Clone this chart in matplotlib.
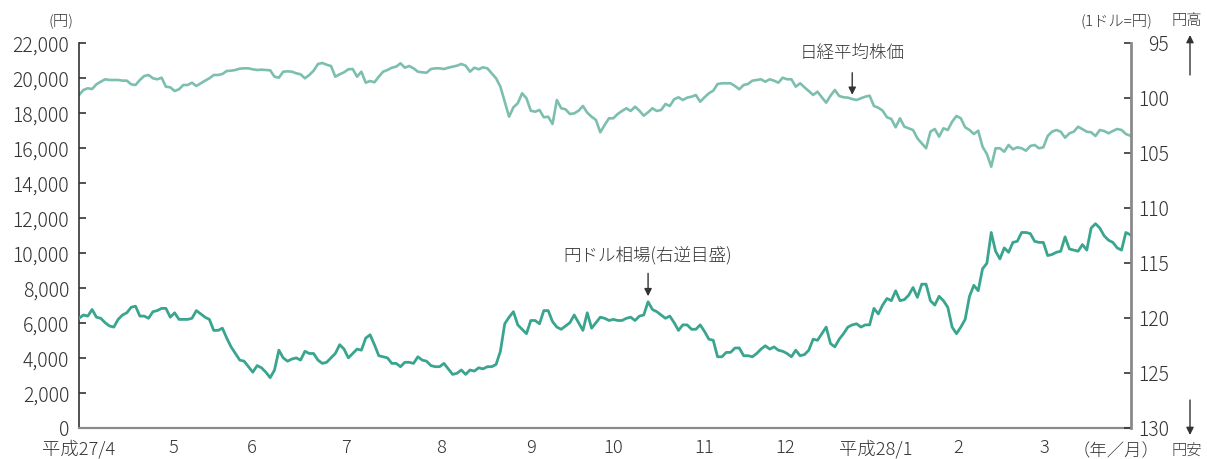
import numpy as np
import matplotlib.pyplot as plt

plt.rcParams['font.family'] = ['Noto Sans CJK JP', 'DejaVu Sans']
plt.rcParams['font.weight'] = 'light'

# 月ラベルと各月の営業日数（平成27年4月～平成28年3月）
month_labels = ['平成27/4', '5', '6', '7', '8', '9', '10', '11', '12', '平成28/1', '2', '3']
trading_days = [21, 18, 22, 22, 21, 19, 21, 19, 21, 19, 20, 22]

# 日経平均株価（円）
nikkei = [
    19046, 19331, 19428, 19388, 19656, 19805, 19942, 19903, 19903, 19903,
    19864, 19864, 19656, 19617, 19903, 20131, 20188, 20000, 19942, 20034,
    19519, 19485, 19273, 19370, 19617, 19617, 19748, 19560, 19714, 19862,
    20000, 20188, 20188, 20245, 20416, 20435, 20474, 20550, 20569, 20569,
    20512, 20474, 20493, 20474, 20455, 20091, 20034, 20377, 20397, 20377,
    20285, 20228, 20000, 20188, 20433, 20816, 20873, 20776, 20702, 20091,
    20228, 20342, 20513, 20530, 20091, 20377, 19748, 19845, 19771, 20091,
    20377, 20474, 20605, 20662, 20856, 20605, 20702, 20569, 20377, 20342,
    20319, 20530, 20569, 20569, 20530, 20605, 20662, 20720, 20816, 20720,
    20377, 20605, 20513,
    20627, 20569, 20285, 20000, 19519, 18662, 17805, 18342, 18571, 19142,
    18857, 18148, 18091, 18188, 17771, 17805, 17388, 18759, 18286, 18228,
    17959, 17995, 18148, 18417, 18034, 17805, 17617, 16913, 17331, 17714,
    17714, 17959, 18131, 18286, 18131, 18377, 18148, 17862, 18057, 18286,
    18131, 18188, 18531, 18417, 18799, 18913, 18759, 18894, 18948, 19046,
    18662, 18913, 19142, 19291, 19673, 19714, 19714, 19714, 19560, 19370,
    19617, 19673, 19862, 19903, 19942, 19805, 19942, 19862, 19748, 20034,
    19942, 19942, 19519, 19714, 19485, 19273, 19046, 19234, 18913, 18605,
    19005, 19331, 18988, 18913, 18894, 18816, 18759, 18857, 18948, 19005,
    18417, 18320, 18148, 17771, 17676, 17199, 17714,
    17234, 17142, 17045, 16571, 16285, 16000, 16948, 17102, 16662, 17142,
    17045, 17519, 17845, 17714, 17199, 17045, 16816, 17005, 16091, 15673,
    14948, 16000, 16000, 15806, 16188, 15942, 16057, 16000, 15863, 16131,
    16188, 16000, 16057, 16702, 16948, 17045, 16948, 16605, 16856, 16948,
    17234, 17091, 16948, 16913, 16702, 17045, 16988, 16856, 16988, 17102,
    17045, 16816, 16719,
]

# 円ドル相場（1ドル=円）
usdjpy = [
    120.0, 119.7, 119.8, 119.2, 119.9, 120.0, 120.4, 120.7, 120.8, 120.1,
    119.7, 119.5, 119.0, 118.9, 119.8, 119.8, 120.0, 119.4, 119.3, 119.1,
    119.1, 119.9, 119.5, 120.1, 120.1, 120.1, 120.0, 119.3, 119.6, 119.9,
    120.1, 121.1, 121.1, 120.9, 121.8, 122.6, 123.2, 123.8, 123.9, 124.4,
    124.9, 124.3, 124.5, 124.9, 125.4, 124.7, 122.9, 123.6, 123.9, 123.7,
    123.6, 123.8, 123.0, 123.2, 123.2, 123.8, 124.1, 124.0, 123.6, 123.2,
    122.4, 122.8, 123.6, 123.2, 122.8, 122.9, 121.8, 121.5, 122.4, 123.4,
    123.5, 123.6, 124.1, 124.1, 124.4, 124.0, 124.0, 124.1, 123.5, 123.8,
    123.9, 124.3, 124.4, 124.4, 124.1, 124.6, 125.1, 125.0, 124.7, 125.1,
    124.7, 124.8, 124.5,
    124.6, 124.4, 124.4, 124.2, 123.0, 120.5, 119.9, 119.4, 120.6, 121.0,
    121.4, 120.2, 120.2, 120.5, 119.3, 119.3, 120.3, 120.8, 121.0, 120.7,
    120.4, 119.7, 120.4, 121.1, 119.5, 120.9, 120.4, 119.9, 120.0, 120.2,
    120.1, 120.2, 120.2, 120.0, 119.9, 120.2, 119.8, 119.7, 118.5, 119.2,
    119.4, 119.7, 120.0, 119.8, 120.4, 121.1, 120.6, 120.6, 121.0, 121.0,
    120.6, 121.2, 121.9, 122.0, 123.5, 123.5, 123.1, 123.1, 122.7, 122.7,
    123.4, 123.4, 123.5, 123.2, 122.8, 122.5, 122.8, 122.6, 122.9, 123.0,
    123.2, 123.5, 122.9, 123.4, 123.3, 122.9, 121.9, 122.0, 121.4, 120.8,
    122.3, 122.6, 121.9, 121.4, 120.8,
    120.6, 120.5, 120.8, 120.6, 120.6, 119.1, 119.6, 118.8, 118.2, 118.4,
    117.5, 118.4, 118.3, 117.9, 117.2, 118.1, 116.9, 116.9, 118.4, 118.8,
    118.0, 118.4, 119.0, 120.8, 121.4, 120.8, 120.1, 118.0, 117.0, 117.5,
    115.5, 115.0, 112.2, 113.9, 114.6, 113.6, 114.0, 113.1, 113.0, 112.2,
    112.2, 112.3, 113.0, 113.1, 113.1, 114.3, 114.2, 114.0, 113.9, 112.6,
    113.7, 113.8, 113.9, 113.3, 113.8, 111.8, 111.4, 111.8, 112.5, 112.9,
    113.1, 113.6, 113.8, 112.2, 112.4,
]

TEXT = '#333333'
GRAY = '#8a8a8a'
C_NIKKEI = '#7cbfae'
C_YEN = '#3aa58e'

n_days = sum(trading_days)
x_nk = np.linspace(0, n_days - 1, len(nikkei))
x_fx = np.linspace(0, n_days - 1, len(usdjpy))
month_start = np.concatenate([[0], np.cumsum(trading_days)[:-1]])
tick_pos = month_start + np.where(month_start > 0, 1.0, 0.0)

fig = plt.figure(figsize=(12.07, 4.59), dpi=100)
ax = fig.add_axes([0.0655, 0.0669, 0.8716, 0.8388])
ax2 = ax.twinx()

ax.plot(x_nk, nikkei, color=C_NIKKEI, lw=1.9, solid_joinstyle='round')
ax2.plot(x_fx, usdjpy, color=C_YEN, lw=2.0, solid_joinstyle='round')

ax.set_xlim(0, n_days - 0.8)
ax.set_ylim(0, 22000)
ax.set_yticks(np.arange(0, 22001, 2000))
ax.set_yticklabels([f'{v:,}' for v in range(0, 22001, 2000)])
ax.set_xticks(tick_pos)
ax.set_xticklabels(month_labels)

ax2.set_ylim(130, 95)
ax2.set_yticks(np.arange(95, 131, 5))

for s in ['top', 'right']:
    ax.spines[s].set_visible(False)
for s in ['top', 'left', 'bottom']:
    ax2.spines[s].set_visible(False)
ax.spines['left'].set_color(TEXT)
ax.spines['left'].set_linewidth(1.2)
ax.spines['bottom'].set_color(GRAY)
ax.spines['bottom'].set_linewidth(1.6)
ax2.spines['right'].set_color(GRAY)
ax2.spines['right'].set_linewidth(2.0)

ax.tick_params(axis='y', direction='in', length=5, width=1.2, color=TEXT,
               pad=7, labelsize=14, labelcolor=TEXT)
ax.tick_params(axis='x', length=0, pad=8, labelsize=13.2, labelcolor=TEXT)
ax2.tick_params(axis='y', direction='in', length=5, width=1.2, color=TEXT,
                pad=27.5, labelsize=14, labelcolor=TEXT)
for lab in ax2.get_yticklabels():
    lab.set_horizontalalignment('right')

arrow = dict(arrowstyle='-|>', color=TEXT, lw=1.0, mutation_scale=11)

# 系列ラベル
i_nk = 178
ax.annotate('日経平均株価', xy=(x_nk[i_nk], nikkei[i_nk]), xytext=(0, 45),
            textcoords='offset pixels', ha='center', va='center',
            fontsize=12.6, color=TEXT,
            arrowprops=dict(arrow, shrinkA=5, shrinkB=3))
i_fx = int(np.argmin(usdjpy[100:160])) + 100
ax2.annotate('円ドル相場(右逆目盛)', xy=(x_fx[i_fx], usdjpy[i_fx]), xytext=(0, 46),
             textcoords='offset pixels', ha='center', va='center',
             fontsize=12.6, color=TEXT,
             arrowprops=dict(arrow, shrinkA=4, shrinkB=4))

# 単位・方向の注記
W, H = 1207, 459
fig.text(61 / W, 1 - 21 / H, '(円)', ha='center', va='center', fontsize=11, color=TEXT)
fig.text(1116 / W, 1 - 21 / H, '(1ドル=円)', ha='center', va='center', fontsize=11, color=TEXT)
fig.text(1187 / W, 1 - 21 / H, '円高', ha='center', va='center', fontsize=11, color=TEXT)
fig.text(1187 / W, 1 - 451 / H, '円安', ha='center', va='center', fontsize=11, color=TEXT)
fig.text(1116 / W, 1 - 451 / H, '（年／月）', ha='center', va='center', fontsize=12.5, color=TEXT)
ax.annotate('', xy=(1190 / W, 1 - 35 / H), xytext=(1190 / W, 1 - 75 / H),
            xycoords='figure fraction', textcoords='figure fraction',
            arrowprops=dict(arrow, shrinkA=0, shrinkB=0), annotation_clip=False)
ax.annotate('', xy=(1190 / W, 1 - 435 / H), xytext=(1190 / W, 1 - 400 / H),
            xycoords='figure fraction', textcoords='figure fraction',
            arrowprops=dict(arrow, shrinkA=0, shrinkB=0), annotation_clip=False)

fig.savefig('out.png', dpi=100)
